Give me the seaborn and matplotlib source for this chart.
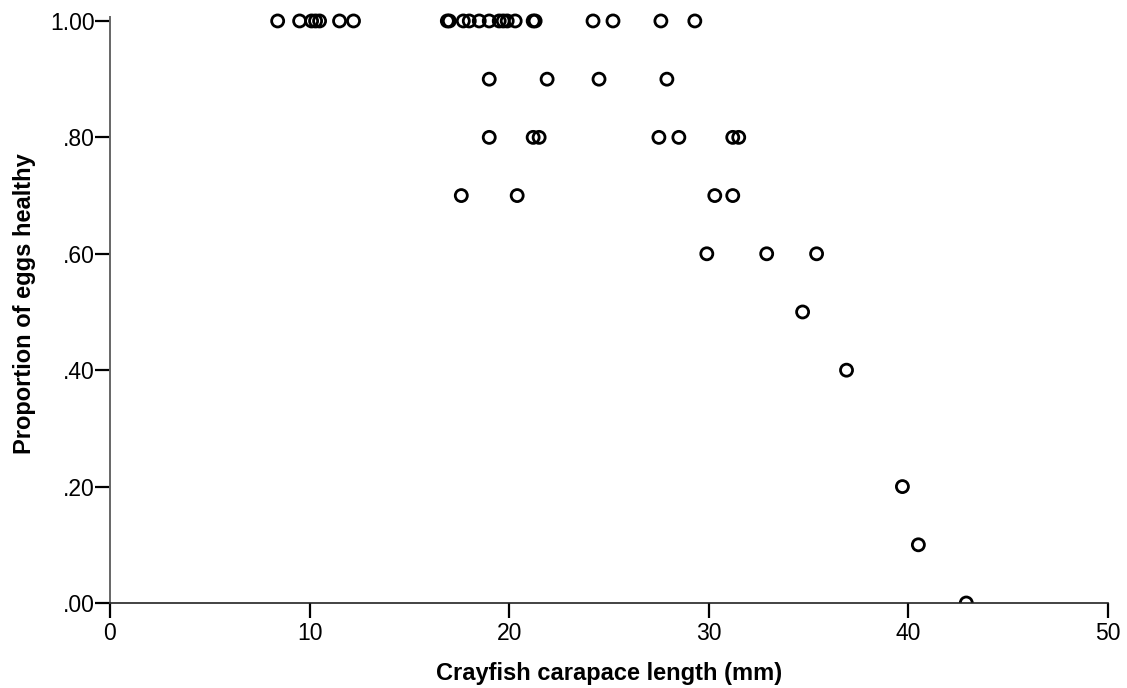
import pandas as pd
import matplotlib
matplotlib.use("Agg")
import matplotlib.pyplot as plt
import seaborn as sns

# values
length_mm = [8.4, 9.5, 10.1, 10.3, 10.5, 11.5, 12.2, 16.9, 17.0, 17.7, 18.0, 18.5,
             19.0, 19.5, 19.7, 19.9, 20.3, 21.2, 21.3, 24.2, 25.2, 27.6, 29.3,
             19.0, 21.9, 24.5, 27.9,
             19.0, 21.2, 21.5, 27.5, 28.5, 31.2, 31.5,
             17.6, 20.4, 30.3, 31.2,
             29.9, 32.9, 35.4,
             34.7,
             36.9,
             39.7,
             40.5,
             42.9]
prop_healthy = [1.0] * 23 + [0.9] * 4 + [0.8] * 7 + [0.7] * 4 + [0.6] * 3 + \
    [0.5, 0.4, 0.2, 0.1, 0.0]

y_ticks = [0.0, 0.2, 0.4, 0.6, 0.8, 1.0]
y_tick_labels = [".00", ".20", ".40", ".60", ".80", "1.00"]
x_ticks = [0, 10, 20, 30, 40, 50]

df = pd.DataFrame({"length": length_mm, "healthy": prop_healthy})

sns.set_style("ticks")
plt.rcParams['font.family'] = ['Liberation Sans', 'DejaVu Sans']
plt.rcParams['text.color'] = 'black'
plt.rcParams['axes.labelcolor'] = 'black'
plt.rcParams['xtick.color'] = 'black'
plt.rcParams['ytick.color'] = 'black'

fig = plt.figure(figsize=(11.27, 6.88), dpi=100)
# top of the axes a bit above 1.0 so the top row of circles is not cut
ax = fig.add_axes([110 / 1127, 85 / 688, 998 / 1127, 599.5 / 688])

sns.scatterplot(data=df, x="length", y="healthy", ax=ax, marker="o",
                s=75, facecolor="none", edgecolor="black", linewidth=2.0)

ax.set_xlim(0, 50)
ax.set_ylim(0, 1.03)
ax.set_xticks(x_ticks)
ax.set_yticks(y_ticks)
ax.set_yticklabels(y_tick_labels)
ax.tick_params(axis="both", labelsize=16.5, length=11, width=1.6, color="black",
               labelcolor="black", direction="out")
ax.tick_params(axis="y", pad=0)
ax.tick_params(axis="x", pad=3)

for side in ["top", "right"]:
    ax.spines[side].set_visible(False)
ax.spines["left"].set_bounds(0, 1.007)
ax.spines["left"].set_color("#666666")
ax.spines["bottom"].set_color("#222222")
ax.spines["left"].set_linewidth(1.4)
ax.spines["bottom"].set_linewidth(1.2)

ax.set_xlabel("Crayfish carapace length (mm)", fontsize=17, fontweight="bold", labelpad=12)
ax.set_ylabel("Proportion of eggs healthy", fontsize=17, fontweight="bold", labelpad=10)

fig.savefig("out.png", dpi=100)
